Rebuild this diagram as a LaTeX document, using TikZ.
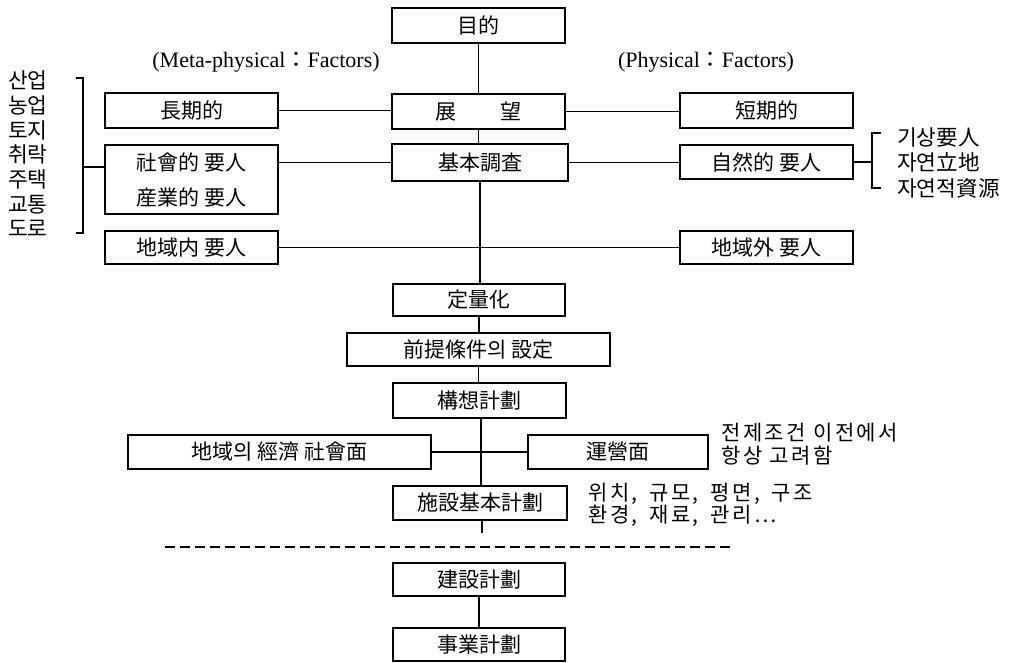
\documentclass[tikz,border=0pt]{standalone}
\usepackage{fontspec}
\setmainfont{Liberation Serif}
\newfontfamily\cjk{Noto Sans CJK KR}
\newfontfamily\cjkwide[LetterSpace=12]{Noto Sans CJK KR}
\begin{document}
\begin{tikzpicture}[x=1pt,y=-1pt,
  box/.style={draw, line width=1.9pt, inner sep=0pt, font=\cjk\fontsize{21}{24}\selectfont},
  conn/.style={line width=1.7pt},
  side/.style={font=\cjk\fontsize{21.5}{24.7}\selectfont, inner sep=0pt},
  lab/.style={font=\fontsize{22}{24}\selectfont, inner sep=0pt}]
\useasboundingbox (0,0) rectangle (1020,663);
% spine boxes
\node[box, minimum width=173pt, minimum height=35pt] (goal) at (478.5,25.5) {目的};
\node[box, minimum width=173pt, minimum height=35pt] (view) at (478.5,111.5) {展\hspace{2.1em}望};
\node[box, minimum width=176pt, minimum height=37pt] (survey) at (480,162.5) {基本調査};
\node[box, minimum width=172pt, minimum height=32pt] (quant) at (479,300) {定量化};
\node[box, minimum width=263pt, minimum height=33pt] (premise) at (478.5,349.5) {前提條件의 設定};
\node[box, minimum width=173pt, minimum height=35pt] (concept) at (479.5,400.5) {構想計劃};
\node[box, minimum width=174pt, minimum height=34pt] (facility) at (480,503) {施設基本計劃};
\node[box, minimum width=172pt, minimum height=33pt] (constr) at (479,579.5) {建設計劃};
\node[box, minimum width=172pt, minimum height=33pt] (business) at (479,644.5) {事業計劃};
% side boxes
\node[box, minimum width=173pt, minimum height=35pt] (long) at (191.5,110.5) {長期的};
\node[box, minimum width=173pt, minimum height=69pt, align=center, font=\cjk\fontsize{21}{26}\selectfont] (social) at (191.5,179.5) {社會的 要人\\[9pt]産業的 要人};
\node[box, minimum width=173pt, minimum height=33pt] (inner) at (191.5,247.5) {地域内 要人};
\node[box, minimum width=173pt, minimum height=35pt] (short) at (766.5,110.5) {短期的};
\node[box, minimum width=173pt, minimum height=34pt] (nature) at (766.5,162) {自然的 要人};
\node[box, minimum width=173pt, minimum height=33pt] (outer) at (766.5,247.5) {地域外 要人};
\node[box, minimum width=303pt, minimum height=34pt] (econ) at (279.5,452) {地域의 經濟 社會面};
\node[box, minimum width=180pt, minimum height=34pt] (oper) at (618,452) {運營面};
% labels
\node[lab] (meta) at (266,62) {(Meta-physical{\cjk ：}Factors)};
\node[lab] (phys) at (706,62) {(Physical{\cjk ：}Factors)};
% left list
\node[side, align=center] (lefttxt) at (28,154) {산업\\농업\\토지\\취락\\주택\\교통\\도로};
% right list
\node[side, anchor=west, align=left, font=\cjk\fontsize{21.5}{25.5}\selectfont] (righttxt) at (897,163) {기상要人\\자연立地\\자연적資源};
% notes
\node[side, anchor=west, align=left, font=\cjkwide\fontsize{21}{23}\selectfont] (note1) at (721,444) {전제조건 이전에서\\항상 고려함};
\node[side, anchor=west, align=left, font=\cjkwide\fontsize{21}{21.5}\selectfont] (note2) at (588,505) {위치,\hspace{0.55em}규모,\hspace{0.55em}평면,\hspace{0.55em}구조\\환경,\hspace{0.55em}재료,\hspace{0.55em}관리…};
% spine connectors
\draw[conn] (goal.south) -- (goal.south |- view.north);
\draw[conn] (view.south) -- (view.south |- survey.north);
\draw[conn] (survey.south) -- (survey.south |- quant.north);
\draw[conn] (quant.south) -- (quant.south |- premise.north);
\draw[conn] (premise.south) -- (premise.south |- concept.north);
\draw[conn] ([xshift=1.5pt]concept.south) -- ([xshift=1.5pt]concept.south |- facility.north);
\draw[conn] (constr.south) -- (constr.south |- business.north);
\coordinate (stub) at (482,533);
\draw[conn] (facility.south -| stub) -- (stub);
% horizontal connectors
\draw[conn] (long.east) -- (long.east -| view.west);
\draw[conn] (view.east) -- (view.east -| short.west);
\draw[conn] (survey.west) -- (survey.west -| social.east);
\draw[conn] (survey.east) -- (survey.east -| nature.west);
\draw[conn] (inner.east) -- (outer.west);
\draw[conn] (econ.east) -- (oper.west);
% left bracket
\coordinate (lbt) at (83,78);
\coordinate (lbb) at (83,233);
\coordinate (lbm) at (83,167);
\draw[conn] (76,78) -- (lbt) -- (lbb) -- (76,233);
\draw[conn] (lbm) -- (lbm -| social.west);
% right bracket
\coordinate (rbt) at (872,133);
\coordinate (rbb) at (872,188);
\draw[conn] (881,133) -- (rbt) -- (rbb) -- (881,188);
\draw[conn] (nature.east) -- (nature.east -| rbt);
% dashed divider
\coordinate (dl) at (165,547);
\coordinate (dr) at (732,547);
\draw[line width=1.6pt, dash pattern=on 10pt off 5pt] (dl) -- (dr);
\end{tikzpicture}
\end{document}
